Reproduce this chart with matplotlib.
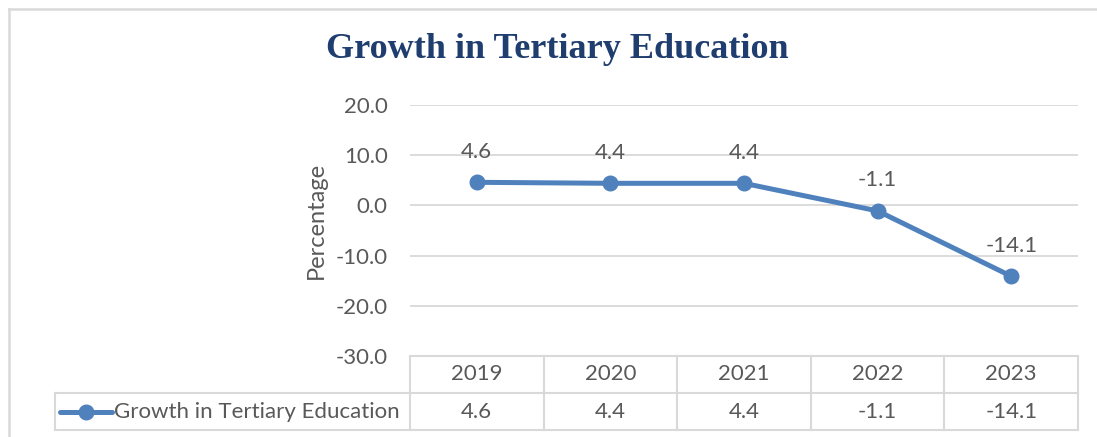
import matplotlib.pyplot as plt
from matplotlib.lines import Line2D
import matplotlib.transforms as mtransforms

# data
years = ['2019', '2020', '2021', '2022', '2023']
growth = [4.6, 4.4, 4.4, -1.1, -14.1]
series_name = 'Growth in Tertiary Education'
yticks = [20, 10, 0, -10, -20, -30]

line_color = '#4F81BD'
grid_color = '#D9D9D9'
text_color = '#595959'
plt.rcParams['font.family'] = ['Lato', 'DejaVu Sans']
fs = 16

W, H = 1097, 437
fig = plt.figure(figsize=(W / 100, H / 100), dpi=100)

# plot area in pixels
left, right, top, bottom = 410, 1078, 105, 356
ax = fig.add_axes([left / W, 1 - bottom / H, (right - left) / W, (bottom - top) / H])

x = list(range(len(years)))
ax.plot(x, growth, color=line_color, lw=3.6, marker='o', ms=10.5, zorder=3)
for xi, v in zip(x, growth):
    ax.annotate(f'{v:.1f}', (xi, v), xytext=(0, 22), textcoords='offset points',
                ha='center', va='center', fontsize=fs, color=text_color)

ax.set_xlim(-0.5, len(years) - 0.5)
ax.set_ylim(-30, 20)
ax.set_yticks(yticks)
ax.set_yticklabels([f'{t:.1f}' for t in yticks], fontsize=fs, color=text_color)
ax.set_xticks([])
ax.tick_params(axis='y', length=0, pad=16)
ax.grid(axis='y', color=grid_color, lw=1.3)
ax.set_axisbelow(True)
for s in ax.spines.values():
    s.set_visible(False)
ax.set_ylabel('Percentage', fontsize=17, color=text_color)
ax.yaxis.set_label_coords(-(left - 327) / (right - left), (bottom - 220) / (bottom - top))

# data table below the plot
ah = bottom - top
r1 = -(393 - bottom) / ah
r2 = -(430 - bottom) / ah
trans = mtransforms.blended_transform_factory(ax.transData, ax.transAxes)
ft = mtransforms.blended_transform_factory(fig.transFigure, ax.transAxes)
tab_left = 55 / W
tab_right = right / W
kw = dict(color=grid_color, lw=1.5, clip_on=False)
ax.add_line(Line2D([-0.5, len(years) - 0.5], [0, 0], transform=trans, **kw))
for y in [r1, r2]:
    ax.add_line(Line2D([tab_left, tab_right], [y, y], transform=ft, **kw))
for i in range(len(years) + 1):
    ax.add_line(Line2D([i - 0.5, i - 0.5], [0, r2], transform=trans, **kw))
ax.add_line(Line2D([tab_left, tab_left], [r1, r2], transform=ft, **kw))

for xi, yr, v in zip(x, years, growth):
    ax.text(xi, r1 / 2, yr, transform=trans, ha='center', va='center',
            fontsize=fs, color=text_color)
    ax.text(xi, (r1 + r2) / 2, f'{v:.1f}', transform=trans, ha='center', va='center',
            fontsize=fs, color=text_color)

# legend key in the table
ym = (r1 + r2) / 2
ax.add_line(Line2D([60 / W, 112 / W], [ym, ym], transform=ft, color=line_color,
                   lw=3.6, clip_on=False, solid_capstyle='round'))
ax.add_line(Line2D([86 / W], [ym], transform=ft, color=line_color, marker='o',
                   ms=10.5, clip_on=False))
ax.text(114 / W, ym, series_name, transform=ft, ha='left', va='center',
        fontsize=fs, color=text_color)

# title
fig.text(557 / W, 1 - 50 / H, series_name, ha='center', va='center',
         fontsize=26, fontweight='bold', color='#1F3D6E',
         family=['Liberation Serif', 'DejaVu Serif'])

# chart border (top and left visible)
fig.add_artist(Line2D([8.5 / W, 1], [1 - 8.5 / H, 1 - 8.5 / H], color=grid_color, lw=1.8))
fig.add_artist(Line2D([8.5 / W, 8.5 / W], [0, 1 - 8.5 / H], color=grid_color, lw=1.8))

fig.savefig('out.png', dpi=100)
